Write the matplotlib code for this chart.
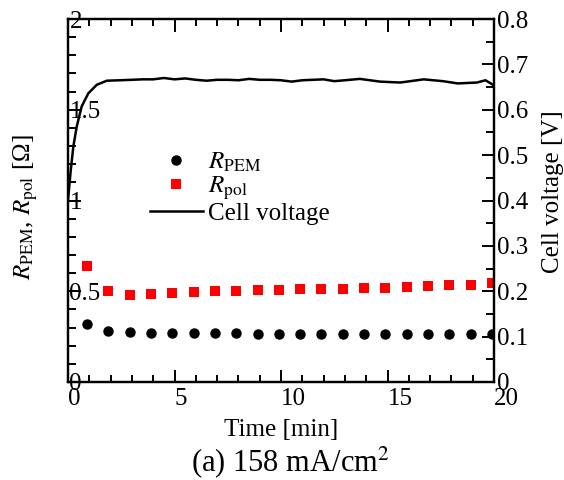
import matplotlib
matplotlib.use("Agg")
import matplotlib.pyplot as plt
from matplotlib.ticker import MultipleLocator

plt.rcParams['font.family'] = ['Liberation Serif', 'DejaVu Serif']
plt.rcParams['mathtext.fontset'] = 'stix'

# Resistance data (min, ohm)
t_res = [0.9, 1.9, 2.9, 3.9, 4.9, 5.9, 6.9, 7.9, 8.9, 9.9,
         10.9, 11.9, 12.9, 13.9, 14.9, 15.9, 16.9, 17.9, 18.9, 19.9]
r_pem = [0.319, 0.282, 0.275, 0.272, 0.270, 0.269, 0.268, 0.268, 0.267, 0.267,
         0.266, 0.266, 0.266, 0.265, 0.265, 0.265, 0.264, 0.264, 0.264, 0.264]
r_pol = [0.640, 0.502, 0.482, 0.483, 0.490, 0.495, 0.499, 0.503, 0.506, 0.508,
         0.510, 0.512, 0.514, 0.516, 0.518, 0.523, 0.527, 0.532, 0.537, 0.543]

# Cell voltage data (min, V)
t_v = [0.0, 0.13, 0.25, 0.41, 0.64, 0.95, 1.35, 1.82, 2.44, 3.0, 3.5, 4.0, 4.5,
       5.0, 5.5, 6.0, 6.5, 7.0, 7.5, 8.0, 8.5, 9.0, 9.5, 10.0, 10.5, 11.0, 11.5,
       12.0, 12.5, 13.0, 13.7, 14.65, 15.6, 16.7, 17.6, 18.3, 19.2, 19.6, 19.95]
v_cell = [0.401, 0.467, 0.519, 0.563, 0.607, 0.636, 0.655, 0.664, 0.665, 0.666,
          0.667, 0.667, 0.670, 0.667, 0.669, 0.666, 0.664, 0.666, 0.666, 0.665,
          0.668, 0.666, 0.666, 0.665, 0.662, 0.665, 0.666, 0.667, 0.663, 0.665,
          0.668, 0.662, 0.660, 0.667, 0.663, 0.658, 0.660, 0.665, 0.655]

x_ticks = [0, 5, 10, 15, 20]
x_ticklabels = ['0', '5', '10', '15', '20']
y_ticks = [0, 0.5, 1, 1.5, 2]
y_ticklabels = ['0', '0.5', '1', '1.5', '2']
y2_ticks = [0, 0.1, 0.2, 0.3, 0.4, 0.5, 0.6, 0.7, 0.8]
y2_ticklabels = ['0', '0.1', '0.2', '0.3', '0.4', '0.5', '0.6', '0.7', '0.8']

FS = 18

fig = plt.figure(figsize=(5.64, 4.8), dpi=100)
ax = fig.add_axes([68/564, 1-382/480, (494-68)/564, (382-19)/480])
ax2 = ax.twinx()

lw_sp = 1.6
for a in (ax, ax2):
    for s in a.spines.values():
        s.set_linewidth(lw_sp)

l1, = ax.plot(t_res, r_pem, 'o', color='black', markersize=6.5, label=r'$R_{\rm PEM}$')
l2, = ax.plot(t_res, r_pol, 's', color='#ff0000', markersize=7, markeredgewidth=0, label=r'$R_{\rm pol}$')
l3, = ax2.plot(t_v, v_cell, '-', color='black', linewidth=1.8, label='Cell voltage')

ax.set_xlim(0, 20)
ax.set_ylim(0, 2)
ax2.set_ylim(0, 0.8)

ax.xaxis.set_minor_locator(MultipleLocator(1))
ax.yaxis.set_minor_locator(MultipleLocator(0.1))
ax2.yaxis.set_minor_locator(MultipleLocator(0.05))

ax.tick_params(axis='x', which='both', direction='in', top=True, bottom=True, labelsize=FS, pad=4, width=1.4)
ax.tick_params(axis='x', which='major', length=9)
ax.tick_params(axis='x', which='minor', length=5)
ax.tick_params(axis='y', which='both', direction='in', left=True, right=False, labelsize=FS, pad=-1, width=1.4)
ax.tick_params(axis='y', which='major', length=9)
ax.tick_params(axis='y', which='minor', length=6)
ax2.tick_params(axis='y', which='both', direction='in', right=True, labelsize=FS, pad=2, width=1.4)
ax2.tick_params(axis='y', which='major', length=9)
ax2.tick_params(axis='y', which='minor', length=6)

ax.set_xticks(x_ticks)
ax.set_xticklabels(x_ticklabels, ha='left')
ax.set_yticks(y_ticks)
ax.set_yticklabels(y_ticklabels, ha='left')
ax2.set_yticks(y2_ticks)
ax2.set_yticklabels(y2_ticklabels)

ax.set_xlabel('Time [min]', fontsize=FS, labelpad=7)
ax.set_ylabel(r'$R_{\rm PEM}$, $R_{\rm pol}$ [Ω]', fontsize=FS, labelpad=20)
ax.yaxis.label.set_y((382 - 207) / 363)
ax2.set_ylabel('Cell voltage [V]', fontsize=FS, labelpad=10)
ax2.yaxis.label.set_y((382 - 191.5) / 363)

fig.text(290/564, 1-462/480, r'(a) 158 mA/cm$^{2}$', fontsize=22, ha='center', va='center')

leg = ax.legend(handles=[l1, l2, l3], loc='upper left',
                bbox_to_anchor=((150-68)/426, 1-(151-19)/363),
                frameon=False, fontsize=FS, handlelength=2.1, handletextpad=0.2,
                labelspacing=0.02, borderpad=0, borderaxespad=0)

fig.savefig('out.png', dpi=100)
